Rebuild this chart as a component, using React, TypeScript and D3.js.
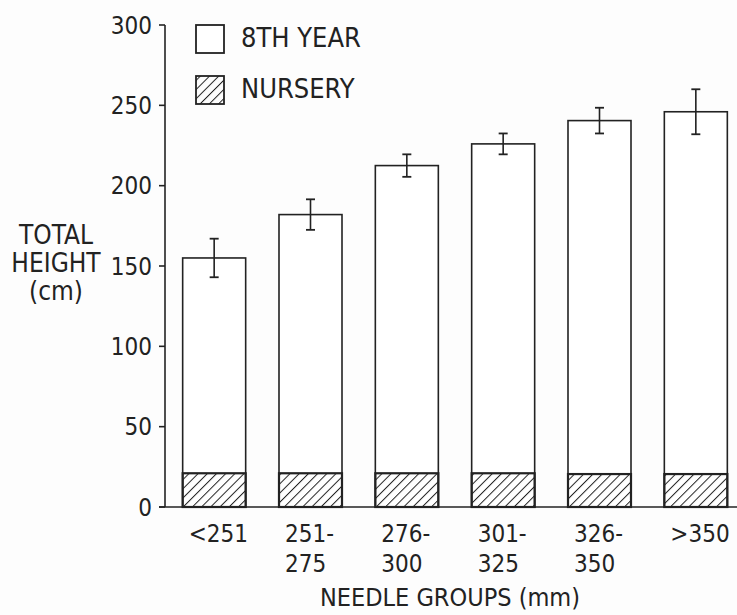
import React from "react";
import * as d3 from "d3";

const categories = ["<251", "251-|275", "276-|300", "301-|325", "326-|350", ">350"];
const eighthYear = [155, 182, 212.5, 226, 240.5, 246];
const errors = [12, 9.5, 7, 6.5, 8, 14];
const nursery = [21, 21, 21, 21, 20.5, 20.5];
const yTicks = [0, 50, 100, 150, 200, 250, 300];
const legendLabels = ["8TH YEAR", "NURSERY"];

const W = 737;
const H = 615;
const FONT = "'DejaVu Sans Condensed', 'Liberation Sans Narrow', 'DejaVu Sans', sans-serif";
const INK = "#222";

export default function App() {
  const x0 = 165;
  const y = d3.scaleLinear().domain([0, 300]).range([507, 25]);
  const x = d3
    .scaleBand<string>()
    .domain(categories)
    .range([166, 744])
    .paddingInner(0.346)
    .paddingOuter(0.173);
  const bw = x.bandwidth();

  return (
    <svg width={W} height={H} style={{ position: "absolute", left: 0, top: 0, background: "#fff" }}>
      <defs>
        <pattern id="hatch" patternUnits="userSpaceOnUse" width="6.5" height="6.5" patternTransform="rotate(45)">
          <line x1="0" y1="0" x2="0" y2="6.5" stroke={INK} strokeWidth="2" />
        </pattern>
      </defs>
      <rect x={0} y={0} width={W} height={H} fill="#fdfdfd" />
      <line x1={x0} x2={x0} y1={y(300)} y2={y(0)} stroke={INK} strokeWidth={1.6} />
      <line x1={x0 - 6} x2={W} y1={y(0)} y2={y(0)} stroke={INK} strokeWidth={1.6} />
      {yTicks.map((t) => (
        <g key={t}>
          <line x1={x0 - 6} x2={x0} y1={y(t)} y2={y(t)} stroke={INK} strokeWidth={1.6} />
          <text x={x0 - 13} y={y(t)} dy="0.36em" textAnchor="end" fontFamily={FONT} fontSize={24} fill={INK}>
            {t}
          </text>
        </g>
      ))}
      {categories.map((c, i) => {
        const bx = x(c)!;
        const cx = bx + bw / 2;
        const lines = c.split("|");
        return (
          <g key={c}>
            <rect x={bx} y={y(eighthYear[i])} width={bw} height={y(0) - y(eighthYear[i])} fill="#fff" stroke={INK} strokeWidth={1.6} />
            <rect x={bx} y={y(nursery[i])} width={bw} height={y(0) - y(nursery[i])} fill="url(#hatch)" stroke={INK} strokeWidth={2.2} />
            <line x1={cx} x2={cx} y1={y(eighthYear[i] + errors[i])} y2={y(eighthYear[i] - errors[i])} stroke={INK} strokeWidth={1.6} />
            <line x1={cx - 4.5} x2={cx + 4.5} y1={y(eighthYear[i] + errors[i])} y2={y(eighthYear[i] + errors[i])} stroke={INK} strokeWidth={1.8} />
            <line x1={cx - 4.5} x2={cx + 4.5} y1={y(eighthYear[i] - errors[i])} y2={y(eighthYear[i] - errors[i])} stroke={INK} strokeWidth={1.8} />
            {lines.map((l, j) => (
              <text key={j} x={bx + 6} y={542 + j * 30} fontFamily={FONT} fontSize={24} fill={INK}>
                {l}
              </text>
            ))}
          </g>
        );
      })}
      {legendLabels.map((l, i) => (
        <g key={l}>
          <rect x={196} y={25 + i * 51} width={28} height={28} fill={i === 0 ? "#fff" : "url(#hatch)"} stroke={INK} strokeWidth={1.8} />
          <text x={241} y={47 + i * 51} fontFamily={FONT} fontSize={27} fill={INK}>
            {l}
          </text>
        </g>
      ))}
      {["TOTAL", "HEIGHT", "(cm)"].map((l, i) => (
        <text key={l} x={56} y={244 + i * 28} textAnchor="middle" fontFamily={FONT} fontSize={26} fill={INK}>
          {l}
        </text>
      ))}
      <text x={450} y={606} textAnchor="middle" fontFamily={FONT} fontSize={25} fill={INK}>
        NEEDLE GROUPS (mm)
      </text>
    </svg>
  );
}
